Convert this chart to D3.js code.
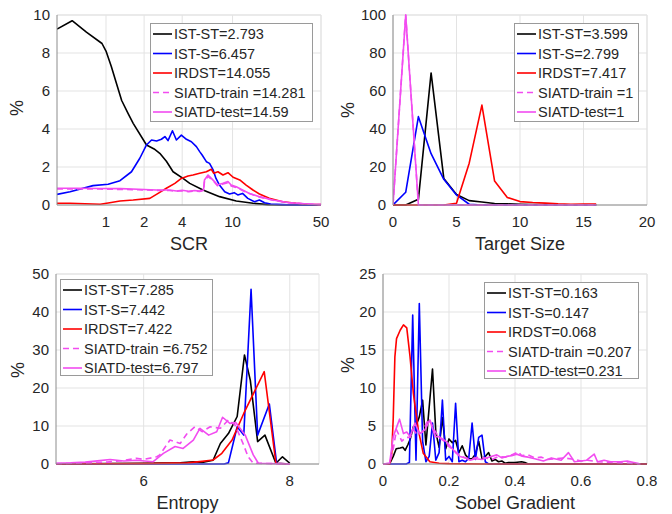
<!DOCTYPE html>
<html><head><meta charset="utf-8">
<script src="https://cdn.jsdelivr.net/npm/d3@7"></script>
<style>body{margin:0;background:#fff}svg{display:block}</style>
</head><body><svg id="c" width="672" height="514"></svg>
<script>
// ---------- Panel 1: SCR ----------
const scrBlackX = [0.41,0.54,0.7,0.93,1.0,1.1,1.21,1.33,1.5,1.64,2.09,2.4,2.66,3.0,3.39,4.06,4.59,5.84,7.9,10.7,14.5,19,25,50];
const scrBlackY = [9.26,9.7,9.1,8.5,8.1,7.3,6.4,5.5,4.8,4.3,3.16,2.95,2.72,2.3,1.75,1.4,1.14,0.79,0.44,0.21,0.09,0.02,0,0];
const scrBlueX = [0.41,0.52,0.79,1.04,1.29,1.59,1.85,2.09,2.29,2.51,2.74,2.92,3.09,3.35,3.6,3.94,4.32,4.73,5.18,5.5,5.75,6.21,6.58,6.99,7.4,7.88,8.67,9.47,10.3,11,12,13.2,14.9,16.3,17.9,20,25,30,50];
const scrBlueY = [0.56,0.7,1.02,1.09,1.28,1.75,2.46,3.16,3.42,3.37,3.46,3.6,3.39,3.91,3.42,3.68,3.46,3.33,3.07,2.81,2.63,2.28,2.19,1.88,1.4,1.05,0.7,0.58,0.65,0.53,0.61,0.35,0.17,0.26,0.12,0.05,0.02,0,0];
const scrRedX = [0.41,0.52,0.9,1.07,1.29,1.64,2.22,2.58,3.0,3.5,3.94,4.45,4.87,5.5,6.21,6.8,7.1,7.67,8.4,9.2,10.1,11.4,12.8,14.5,16.3,19.5,24.9,31.8,40,50];
const scrRedY = [0.09,0.09,0.04,0.12,0.21,0.26,0.35,0.61,0.88,1.14,1.4,1.53,1.58,1.67,1.75,1.88,1.67,1.75,1.58,1.7,1.46,1.32,1.05,0.79,0.58,0.35,0.17,0.09,0.04,0.02];
const scrTrainX = [0.41,0.6,0.9,1.3,1.8,2.5,3.19,3.6,4.0,4.5,5.0,5.5,5.9,6.0,6.4,6.8,7.2,7.6,8.4,9.2,9.75,10.7,12,13.6,16.3,20.8,28,40,50];
const scrTrainY = [0.84,0.85,0.84,0.82,0.8,0.77,0.76,0.72,0.75,0.7,0.74,0.71,0.76,1.25,1.5,1.35,1.2,1.02,1.1,1.18,1.0,0.92,0.76,0.6,0.42,0.25,0.12,0.05,0.02];
const scrTestX = [0.41,0.6,0.9,1.3,1.8,2.5,3.19,3.6,4.0,4.5,5.0,5.5,5.9,6.0,6.4,6.8,7.2,7.6,8.4,9.2,9.75,10.7,12,13.6,16.3,20.8,28,40,50];
const scrTestY = [0.88,0.88,0.87,0.86,0.83,0.79,0.79,0.74,0.78,0.72,0.76,0.73,0.79,1.32,1.58,1.4,1.23,1.05,1.14,1.23,1.05,0.96,0.79,0.61,0.44,0.26,0.12,0.05,0.02];

// ---------- Panel 2: Target Size ----------
const sizeX = [0,1,2,3,4,5,6,7,8,9,10,11,12,13,14,15,16];
const sizeBlack = [0,0,3,69.5,14,5.5,2.3,1.6,0.8,0.6,0.4,0.3,0.2,0.1,0.1,0.1,0];
const sizeBlue  = [0,6.7,46.5,27,13.5,5.3,0.4,0,0,0,0,0,0,0,0,0,0];
const sizeRed   = [0,0,0,0,0,0.9,22,52.6,12.6,4,1.8,1.3,1,0.6,0.4,0.5,0.5];
const sizeTrain = [0,100,0,0,0,0,0,0,0,0,0,0,0,0,0,0,0];
const sizeTest  = [0,100,0,0,0,0,0,0,0,0,0,0,0,0,0,0,0];

// ---------- Panel 3: Entropy ----------
const entBlackX = [4.8,5.5,6.0,6.5,6.68,6.8,6.95,7.05,7.16,7.28,7.38,7.46,7.56,7.66,7.81,7.9,8.0];
const entBlackY = [0,0.1,0.2,0.3,0.6,0.4,1,5.4,8,12.5,28.7,22,5.9,7.6,0.2,1.9,0.2];
const entBlueX = [4.8,7.1,7.16,7.28,7.37,7.47,7.56,7.72,7.82,8.0];
const entBlueY = [0,0,0.3,9.8,7.6,46,7.6,15.8,0.2,0];
const entRedX = [4.8,6.0,6.6,6.8,6.95,7.07,7.21,7.37,7.65,7.81,8.0];
const entRedY = [0,0.1,0.3,0.7,1.05,2.8,6.3,13.3,24.3,0.2,0];
const entTrainX = [4.8,5.2,5.5,5.7,5.9,6.0,6.18,6.22,6.36,6.5,6.59,6.7,6.8,6.91,7.05,7.16,7.25,7.36,7.43,7.5,8.0];
const entTrainY = [0.1,0.3,0.5,0.9,1.5,1.2,1.9,2.4,6.3,5.4,7.9,9.8,8.5,9.8,9.4,11.6,10.3,5.4,1.9,0.2,0];
const entTestX = [4.8,5.0,5.2,5.4,5.54,5.73,5.9,6.13,6.27,6.43,6.54,6.68,6.77,6.89,7.0,7.08,7.18,7.26,7.39,7.5,7.57,8.0];
const entTestY = [0.2,0.3,0.5,0.9,1.2,0.8,1.0,0.6,2.8,4.6,4.1,6.3,9.4,7.6,8.5,12.3,10.7,10.9,7.6,2.4,0.2,0];

// ---------- Panel 4: Sobel Gradient ----------
const sobBlackX = [0,0.02,0.031,0.04,0.052,0.06,0.067,0.075,0.082,0.092,0.1,0.11,0.12,0.13,0.15,0.16,0.17,0.18,0.19,0.2,0.21,0.22,0.23,0.24,0.25,0.26,0.27,0.28,0.29,0.3,0.31,0.32,0.33,0.34,0.35,0.36,0.37,0.38,0.4,0.42,0.43,0.44,0.8];
const sobBlackY = [0,0,1,2,2.1,2.2,1.8,2.5,3.2,4.9,5,6.2,8.4,2.5,12.5,4.2,2.2,6.1,2,3.3,2.8,3.1,1.5,2.4,1.2,0.7,0.7,1.3,3,0.7,1,1.5,0.4,0.6,0.3,0.4,0.1,0.2,0.2,0.3,0.2,0,0];
const sobBlueX = [0,0.07,0.08,0.09,0.1,0.11,0.12,0.13,0.14,0.15,0.16,0.17,0.18,0.19,0.2,0.21,0.22,0.23,0.24,0.25,0.26,0.27,0.28,0.29,0.3,0.31,0.32,0.8];
const sobBlueY = [0,0,0.2,19.6,0.5,21.1,3,0.3,1,5.4,0.5,1.5,8.4,0.5,1,0.3,8,0.3,0.5,0.3,0.8,5.4,0.6,3.5,3.8,0.3,0,0];
const sobRedX = [0,0.02,0.026,0.031,0.036,0.041,0.052,0.062,0.072,0.082,0.092,0.107,0.122,0.142,0.17,0.2,0.3,0.8];
const sobRedY = [0,0,1,6,14.1,16.5,17.6,18.3,17.9,14.1,9.3,4.5,1.4,0.3,0.1,0.05,0,0];
const sobTrainX = [0,0.02,0.031,0.041,0.057,0.07,0.082,0.092,0.105,0.12,0.132,0.14,0.155,0.17,0.185,0.2,0.215,0.23,0.25,0.27,0.29,0.31,0.33,0.35,0.37,0.39,0.41,0.42,0.44,0.46,0.48,0.5,0.52,0.55,0.58,0.6,0.62,0.65,0.7,0.75,0.78];
const sobTrainY = [0,0.1,2,4.5,3,3.5,3.5,4.5,3.8,4.2,5.4,5.9,4.5,3.5,3,2.3,1.8,1.2,0.8,0.7,0.9,0.8,0.6,1,0.9,1.2,1.6,1.1,1.2,0.8,0.9,0.6,0.7,0.8,0.6,0.4,0.5,0.3,0.2,0.1,0];
const sobTestX = [0,0.02,0.031,0.05,0.062,0.072,0.082,0.097,0.11,0.127,0.142,0.158,0.17,0.18,0.193,0.208,0.22,0.233,0.25,0.264,0.28,0.3,0.32,0.345,0.36,0.375,0.39,0.405,0.425,0.44,0.46,0.486,0.51,0.54,0.562,0.58,0.6,0.617,0.64,0.65,0.67,0.69,0.72,0.74,0.76,0.775];
const sobTestY = [0,0.1,3.6,5.9,4,4.2,3.6,5.4,4,4.5,5.8,3.6,3.6,3.3,2.9,2.1,1.5,1,0.8,0.5,0.7,0.6,0.9,1.2,0.8,1,1.1,1.3,1.0,0.9,0.7,0.4,0.8,0.5,1.5,0.3,0.4,0.5,1.3,0.3,0.5,0.3,0.3,0.4,0.2,0.05];

// ---------- Labels ----------
const seriesNames = ["IST-ST","IST-S","IRDST","SIATD-train ","SIATD-test"];
const scrMeans = ["2.793","6.457","14.055","14.281","14.59"];
const sizeMeans = ["3.599","2.799","7.417","1","1"];
const entMeans = ["7.285","7.442","7.422","6.752","6.797"];
const sobMeans = ["0.163","0.147","0.068","0.207","0.231"];
const colors = ["#000000","#0000ff","#ff0000","#f24cf0","#f24cf0"];
const dashes = [null,null,null,"6,4",null];

const panels = [
  {xr:[57,321], yr:[205,15], log:true, xd:[0.41,50], yd:[0,10], xt:[1,2,4,10,50], yt:[0,2,4,6,8,10],
   xl:"SCR", means:scrMeans, leg:[150,23,162,98], lab:[17,108],
   data:[[scrBlackX,scrBlackY],[scrBlueX,scrBlueY],[scrRedX,scrRedY],[scrTrainX,scrTrainY],[scrTestX,scrTestY]]},
  {xr:[393,647], yr:[205,15], log:false, xd:[0,20], yd:[0,100], xt:[0,5,10,15,20], yt:[0,20,40,60,80,100],
   xl:"Target Size", means:sizeMeans, leg:[514,23,124,98], lab:[348,110],
   data:[[sizeX,sizeBlack],[sizeX,sizeBlue],[sizeX,sizeRed],[sizeX,sizeTrain],[sizeX,sizeTest]]},
  {xr:[56,319], yr:[464,274], log:false, xd:[4.8,8.4], yd:[0,50], xt:[6,8], yt:[0,10,20,30,40,50],
   xl:"Entropy", means:entMeans, leg:[60,279,152,96], lab:[18,370],
   data:[[entBlackX,entBlackY],[entBlueX,entBlueY],[entRedX,entRedY],[entTrainX,entTrainY],[entTestX,entTestY]]},
  {xr:[383,647], yr:[464,274], log:false, xd:[0,0.8], yd:[0,25], xt:[0,0.2,0.4,0.6,0.8], yt:[0,5,10,15,20,25],
   xl:"Sobel Gradient", means:sobMeans, leg:[484,282,154,96], lab:[348,365],
   data:[[sobBlackX,sobBlackY],[sobBlueX,sobBlueY],[sobRedX,sobRedY],[sobTrainX,sobTrainY],[sobTestX,sobTestY]]}
];

const svg = d3.select("#c");
const FONT = "'Liberation Sans', Arial, Helvetica, sans-serif";
const txtCol = "#262626";

panels.forEach((p, pi) => {
  const x = (p.log ? d3.scaleLog() : d3.scaleLinear()).domain(p.xd).range(p.xr);
  const y = d3.scaleLinear().domain(p.yd).range(p.yr);
  const g = svg.append("g");
  const [x0,x1] = p.xr, [yb,yt] = p.yr;

  // grid
  g.selectAll(".gx").data(p.xt).join("line")
    .attr("x1", d => x(d)).attr("x2", d => x(d)).attr("y1", yb).attr("y2", yt)
    .attr("stroke", "#e3e3e3").attr("stroke-width", 1);
  g.selectAll(".gy").data(p.yt).join("line")
    .attr("x1", x0).attr("x2", x1).attr("y1", d => y(d)).attr("y2", d => y(d))
    .attr("stroke", "#e3e3e3").attr("stroke-width", 1);
  g.append("line").attr("x1", x1).attr("x2", x1).attr("y1", yb).attr("y2", yt).attr("stroke","#e3e3e3");
  g.append("line").attr("x1", x0).attr("x2", x1).attr("y1", yt).attr("y2", yt).attr("stroke","#e3e3e3");

  // clip
  const cid = "clip" + pi;
  svg.append("clipPath").attr("id", cid).append("rect")
    .attr("x", x0).attr("y", yt - 2).attr("width", x1 - x0 + 1).attr("height", yb - yt + 3);

  const line = d3.line().x(d => x(d[0])).y(d => y(d[1]));
  const pg = g.append("g").attr("clip-path", `url(#${cid})`);
  p.data.forEach((s, si) => {
    const pts = s[0].map((xv, i) => [xv, s[1][i]]);
    pg.append("path").datum(pts).attr("d", line)
      .attr("fill", "none").attr("stroke", colors[si]).attr("stroke-width", 1.6)
      .attr("stroke-linejoin", "round")
      .attr("stroke-dasharray", dashes[si]);
  });

  // axes lines
  g.append("line").attr("x1", x0).attr("x2", x0).attr("y1", yb).attr("y2", yt).attr("stroke", "#8c8c8c");
  g.append("line").attr("x1", x0).attr("x2", x1).attr("y1", yb).attr("y2", yb).attr("stroke", "#8c8c8c");

  // tick labels
  g.selectAll(".tx").data(p.xt).join("text")
    .attr("x", d => x(d)).attr("y", yb + 22).attr("text-anchor", "middle")
    .attr("font-family", FONT).attr("font-size", 15).attr("fill", txtCol)
    .text(d => d3.format("")(+d.toFixed(2)));
  g.selectAll(".ty").data(p.yt).join("text")
    .attr("x", x0 - 7).attr("y", d => y(d)).attr("dy", "0.36em").attr("text-anchor", "end")
    .attr("font-family", FONT).attr("font-size", 15).attr("fill", txtCol)
    .text(d => d);

  // axis labels
  g.append("text").attr("x", (x0 + x1) / 2).attr("y", yb + 45).attr("text-anchor", "middle")
    .attr("font-family", FONT).attr("font-size", 18).attr("fill", txtCol).text(p.xl);
  g.append("text").attr("transform", `translate(${p.lab[0]},${p.lab[1]}) rotate(-90)`)
    .attr("text-anchor", "middle").attr("dy", "0.35em")
    .attr("font-family", FONT).attr("font-size", 18).attr("fill", txtCol).text("%");

  // legend
  const [lx, ly, lw, lh] = p.leg;
  const lg = g.append("g");
  lg.append("rect").attr("x", lx + 0.5).attr("y", ly + 0.5).attr("width", lw).attr("height", lh)
    .attr("fill", "#fff").attr("stroke", "#9a9a9a").attr("stroke-width", 1);
  seriesNames.forEach((n, i) => {
    const cy = ly + 11 + i * 19.5;
    lg.append("line").attr("x1", lx + 3).attr("x2", lx + 22).attr("y1", cy).attr("y2", cy)
      .attr("stroke", colors[i]).attr("stroke-width", 1.6).attr("stroke-dasharray", dashes[i]);
    lg.append("text").attr("x", lx + 24).attr("y", cy).attr("dy", "0.36em")
      .attr("font-family", FONT).attr("font-size", 14.5).attr("fill", txtCol)
      .text(n + "=" + p.means[i]);
  });
});
</script>
</body></html>
